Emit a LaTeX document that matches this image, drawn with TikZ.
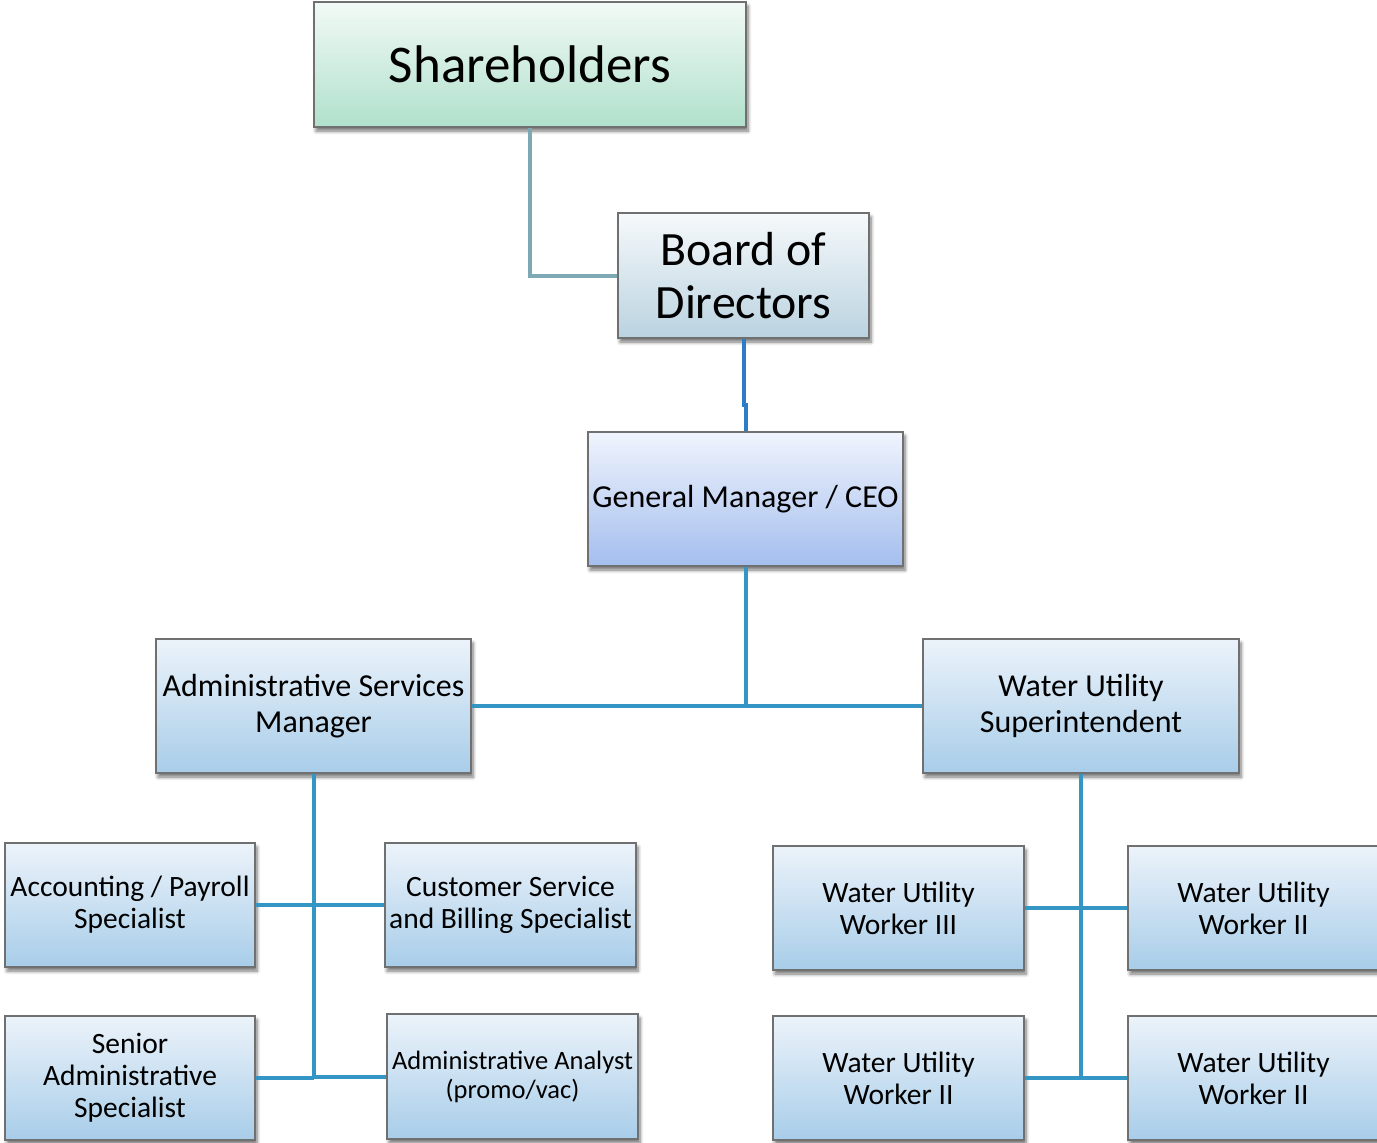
\documentclass[tikz,border=0pt]{standalone}
\usepackage{fontspec}
\setmainfont{Carlito}
\usetikzlibrary{shadows.blur}

\definecolor{edgegray}{RGB}{112,112,112}
\definecolor{shTop}{RGB}{242,250,246}
\definecolor{shBot}{RGB}{176,224,204}
\definecolor{bdTop}{RGB}{246,249,251}
\definecolor{bdBot}{RGB}{186,211,224}
\definecolor{gmTop}{RGB}{240,244,253}
\definecolor{gmBot}{RGB}{164,190,238}
\definecolor{bxTop}{RGB}{236,243,250}
\definecolor{bxBot}{RGB}{168,205,233}
\definecolor{lnGray}{RGB}{127,168,181}
\definecolor{lnDeep}{RGB}{44,124,200}
\definecolor{lnTeal}{RGB}{52,150,196}

\tikzset{
  orgbox/.style n args={2}{rectangle, draw=edgegray, line width=1.3pt,
    minimum width=#1pt, minimum height=#2pt, inner sep=0pt, align=center,
    blur shadow={shadow xshift=2pt, shadow yshift=-4pt,
      shadow blur radius=3.5pt, shadow blur steps=6, shadow opacity=55}},
  tealbox/.style={top color=bxTop, bottom color=bxBot},
  big/.style={font=\fontsize{32}{36}\selectfont},
  small/.style={font=\fontsize{29.5}{32}\selectfont},
  tiny/.style={font=\fontsize{26.5}{29}\selectfont},
  link/.style={line width=4pt, draw=lnTeal},
}

\begin{document}
\begin{tikzpicture}[x=1pt,y=-1pt]
\useasboundingbox (0,0) rectangle (1377,1143);

% top of the hierarchy
\node[orgbox={432}{125}, top color=shTop, bottom color=shBot,
      font=\fontsize{53}{60}\selectfont] (sh) at (530,64.5) {Shareholders};
\node[orgbox={251}{125}, top color=bdTop, bottom color=bdBot,
      font=\fontsize{47.8}{53}\selectfont] (bd) at (743.5,275.5) {Board of\\Directors};
\node[orgbox={315}{134}, top color=gmTop, bottom color=gmBot, big] (gm) at (745.5,499) {General Manager / CEO};

% managers
\node[orgbox={315}{134}, tealbox, big] (asm) at (313.5,706) {Administrative Services\\Manager};
\node[orgbox={316}{134}, tealbox, big] (wus) at (1081,706) {Water Utility\\Superintendent};

% administrative staff
\node[orgbox={250}{124}, tealbox, small] (acc) at (130,905) {Accounting / Payroll\\Specialist};
\node[orgbox={251}{124}, tealbox, small] (csb) at (510.5,905) {Customer Service\\and Billing Specialist};
\node[orgbox={250}{124}, tealbox, small] (sas) at (130,1078) {Senior\\Administrative\\Specialist};
\node[orgbox={251}{125}, tealbox, tiny] (aa) at (512.5,1076.5) {Administrative Analyst\\(promo/vac)};

% water utility staff
\node[orgbox={251}{124}, tealbox, small] (w3) at (898.5,908) {Water Utility\\Worker III};
\node[orgbox={251}{124}, tealbox, small] (w2a) at (1253.5,908) {Water Utility\\Worker II};
\node[orgbox={251}{124}, tealbox, small] (w2b) at (898.5,1078) {Water Utility\\Worker II};
\node[orgbox={251}{124}, tealbox, small] (w2c) at (1253.5,1078) {Water Utility\\Worker II};

% connectors
\coordinate (jog) at (744,405);
\coordinate (lt) at (313.5,1078);
\coordinate (rt) at (1081,1078);

\draw[line width=4pt, draw=lnGray] (sh.south) |- (bd.west);
\draw[line width=4pt, draw=lnDeep] (bd.south) -- (bd.south |- jog) -- (gm.north |- jog) -- (gm.north);
\draw[link] (gm.south) -- (gm.south |- asm.east);
\draw[link] (asm.east) -- (wus.west);

\draw[link] (asm.south) -- (lt);
\draw[link] (acc.east) -- (csb.west);
\draw[link] (sas.east) -- (lt);
\draw[link] (lt |- aa.west) -- (aa.west);

\draw[link] (wus.south) -- (rt);
\draw[link] (w3.east) -- (w2a.west);
\draw[link] (w2b.east) -- (w2c.west);
\end{tikzpicture}
\end{document}
